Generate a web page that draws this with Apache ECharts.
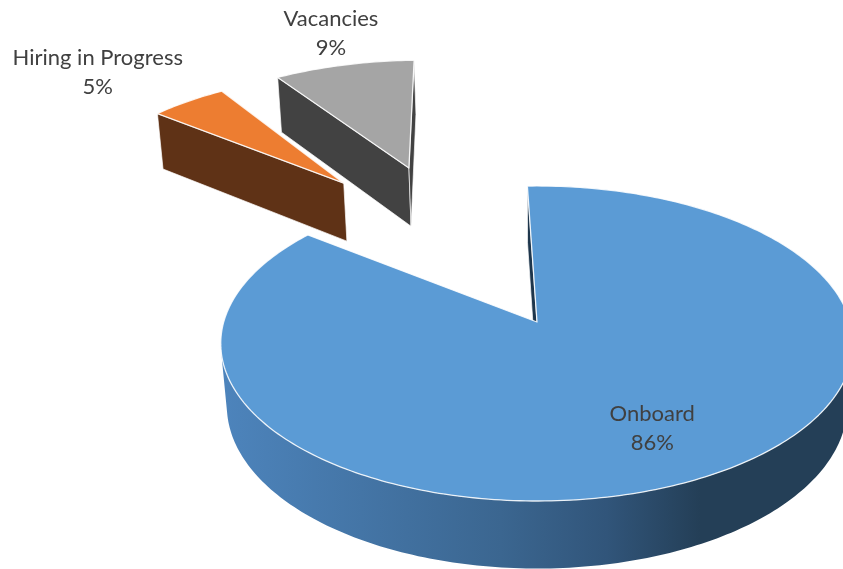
<!DOCTYPE html>
<html>
<head>
<meta charset="utf-8">
<script src="https://cdn.jsdelivr.net/npm/echarts@6/dist/echarts.min.js"></script>
<style>
html,body{margin:0;padding:0;background:#ffffff;}
#chart{width:843px;height:569px;}
</style>
</head>
<body>
<div id="chart"></div>
<script>
// ---- data ----
const categories = ['Onboard', 'Hiring in Progress', 'Vacancies'];
const values = [86, 5, 9];

// ---- styling / 3D view settings ----
const CAM = { D: 6.32, c: 0.862, s: 0.507, fx: 1980, fy: 1927, cx: 537, cy: 322, h: 0.24, start: -2 };
const explode = [[0, 0, 0], [-0.771, 1.65, -0.31], [-0.511, 1.682, -0.257]];
const stretchX = [1, 1.07, 1.1];
const stretchY = [1, 1.12, 1.12];
const topFill = ['#5B9BD5', '#ED7D31', '#A5A5A5'];
const sideFill = [
  { type: 'linear', x: 221, y: 0, x2: 843, y2: 0, global: true,
    colorStops: [
      { offset: 0, color: '#4D84BC' },
      { offset: 0.45, color: '#3B6690' },
      { offset: 0.62, color: '#31557A' },
      { offset: 0.77, color: '#243F57' },
      { offset: 1, color: '#243F57' }
    ] },
  '#5F3216', '#424242'
];
const cutFill = ['#1E364C', '#5F3216', '#424242'];
const labelPlace = [{ r: 0.71 }, { dx: -246, dy: -111 }, { dx: -78, dy: -135 }];
const FONT = 'Lato, "Open Sans", sans-serif';

function proj(x, y, z) {
  const d = CAM.D + y * CAM.c - z * CAM.s;
  return [CAM.cx + CAM.fx * x / d, CAM.cy - CAM.fy * (y * CAM.s + z * CAM.c) / d];
}
function area(pts) {
  let a = 0;
  for (let k = 0; k < pts.length; k++) {
    const p = pts[k], q = pts[(k + 1) % pts.length];
    a += p[0] * q[1] - q[0] * p[1];
  }
  return a;
}

function renderItem(params, api) {
  const i = params.dataIndex;
  const total = values.reduce((a, b) => a + b, 0);
  let cum = 0;
  for (let k = 0; k < i; k++) cum += values[k];
  const a0 = CAM.start + 360 * cum / total;
  const a1 = a0 + 360 * values[i] / total;
  const [ox, oy, oz] = explode[i];
  const O0 = proj(ox, oy, oz);
  const sx = stretchX[i], sy = stretchY[i];
  const P = (x, y, z) => {
    const p = proj(ox + x, oy + y, oz + z);
    return [O0[0] + (p[0] - O0[0]) * sx, O0[1] + (p[1] - O0[1]) * sy];
  };
  const h = CAM.h;
  const N = Math.max(2, Math.ceil(a1 - a0));
  const topArc = [], botArc = [];
  for (let k = 0; k <= N; k++) {
    const a = (a0 + (a1 - a0) * k / N) * Math.PI / 180;
    const x = Math.sin(a), y = Math.cos(a);
    topArc.push(P(x, y, 0));
    botArc.push(P(x, y, -h));
  }
  const O = P(0, 0, 0), Ob = P(0, 0, -h);
  const baseZ = i === 0 ? 100 : (i === 1 ? 40 : 10);
  const children = [];
  const white = 'rgba(255,255,255,0.85)';

  // radial cut faces
  const startFace = [O, Ob, botArc[0], topArc[0]];
  const endFace = [O, topArc[N], botArc[N], Ob];
  [startFace, endFace].forEach(f => {
    if (area(f) > 0) {
      children.push({ type: 'polygon', z2: baseZ + 1, shape: { points: f },
        style: { fill: cutFill[i], stroke: white, lineWidth: 0.8 } });
    }
  });
  // outer curved side: contiguous visible runs
  let run = null;
  const runs = [];
  for (let k = 0; k < N; k++) {
    const q = [topArc[k + 1], topArc[k], botArc[k], botArc[k + 1]];
    if (area(q) > 0) {
      if (!run) { run = { s: k, e: k + 1 }; runs.push(run); } else run.e = k + 1;
    } else run = null;
  }
  runs.forEach(r => {
    const pts = topArc.slice(r.s, r.e + 1).concat(botArc.slice(r.s, r.e + 1).reverse());
    children.push({ type: 'polygon', z2: baseZ + 2, shape: { points: pts },
      style: { fill: sideFill[i], stroke: null } });
  });
  // top face
  children.push({ type: 'polygon', z2: baseZ + 3, shape: { points: [O].concat(topArc) },
    style: { fill: topFill[i], stroke: white, lineWidth: 1.3, lineJoin: 'round' } });

  // label
  let lx, ly;
  const lp = labelPlace[i];
  if (lp.r !== undefined) {
    const m = ((a0 + a1) / 2) * Math.PI / 180;
    const p = P(lp.r * Math.sin(m), lp.r * Math.cos(m), 0);
    lx = p[0] + 4; ly = p[1];
  } else {
    lx = O[0] + lp.dx; ly = O[1] + lp.dy;
  }
  const pct = Math.round(values[i] / total * 100) + '%';
  children.push({ type: 'text', z2: 300,
    style: { text: categories[i] + '\n' + pct, x: lx, y: ly, textAlign: 'center', textVerticalAlign: 'middle',
      fontSize: 22, fontFamily: FONT, fill: '#404040', lineHeight: 29 } });

  return { type: 'group', children: children };
}

const chart = echarts.init(document.getElementById('chart'), null, { renderer: 'canvas' });
chart.setOption({
  animation: false,
  backgroundColor: '#ffffff',
  series: [{
    type: 'custom',
    coordinateSystem: 'none',
    renderItem: renderItem,
    data: values.map((v, i) => ({ name: categories[i], value: v }))
  }]
});
</script>
</body>
</html>
